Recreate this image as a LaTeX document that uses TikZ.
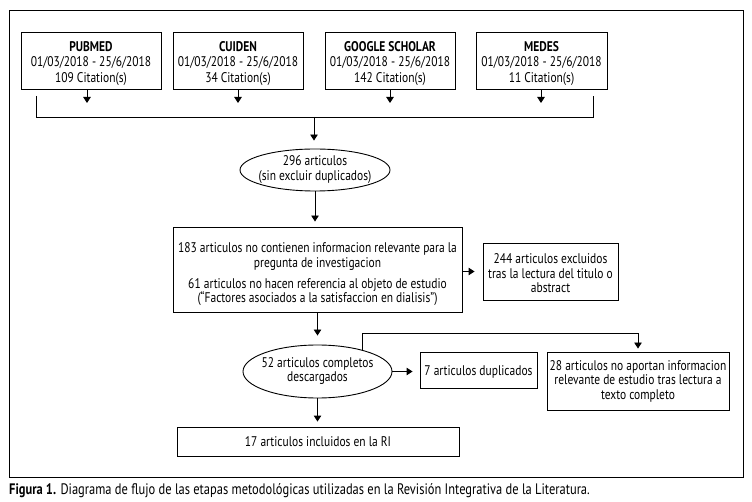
\documentclass[tikz,border=0pt]{standalone}
\usepackage{fontspec}
\setmainfont[FakeStretch=0.82]{PT Sans}
\usetikzlibrary{arrows.meta,shapes.geometric}
\begin{document}
\begin{tikzpicture}[x=1pt,y=-1pt,
  lw/.style={line width=0.9pt},
  txt/.style={font=\fontsize{14}{14.5}\selectfont},
  srctxt/.style={font=\fontsize{14}{15.5}\selectfont},
  box/.style={draw, lw, txt, align=center, inner sep=2pt},
  srcbox/.style={box, srctxt, minimum height=57pt},
  oval/.style={draw, lw, txt, ellipse, inner sep=0pt},
  arr/.style={lw, -{Triangle[width=7.5pt,length=6pt]}}]
\useasboundingbox (0,0) rectangle (752,502);
% outer frame
\node[draw, lw, minimum width=734pt, minimum height=467pt, inner sep=0] (frame) at (376,243.5) {};
% sources
\node[srcbox, minimum width=140pt] (pub) at (91,60.5) {\rule{0pt}{16pt}\textbf{PUBMED}\\01/03/2018 - 25/6/2018\\109 Citation(s)};
\node[srcbox, minimum width=130pt] (cui) at (238,60.5) {\rule{0pt}{16pt}\textbf{CUIDEN}\\01/03/2018 - 25/6/2018\\34 Citation(s)};
\node[srcbox, minimum width=130pt] (goo) at (390,60.5) {\rule{0pt}{16pt}\textbf{GOOGLE SCHOLAR}\\01/03/2018 - 25/6/2018\\142 Citation(s)};
\node[srcbox, minimum width=131pt] (med) at (541.5,60.5) {\rule{0pt}{16pt}\textbf{MEDES}\\01/03/2018 - 25/6/2018\\11 Citation(s)};
\coordinate (pa) at (87,103);
\coordinate (ca) at (238,103);
\coordinate (ga) at (390,103);
\coordinate (ma) at (541,103);
\draw[arr] (pa |- pub.south) -- (pa);
\draw[arr] (ca |- cui.south) -- (ca);
\draw[arr] (ga |- goo.south) -- (ga);
\draw[arr] (ma |- med.south) -- (ma);
% bracket
\coordinate (bl) at (36,96);
\coordinate (br) at (593,96);
\coordinate (bm) at (314,117);
\draw[lw] (bl) -- (bl |- bm) -- (br |- bm) -- (br);
% ellipse 1
\node[oval, minimum width=150pt, minimum height=42pt] (e1) at (315,170) {\makebox[0pt]{\begin{tabular}{@{}c@{}}296 articulos\\(sin excluir duplicados)\end{tabular}}};
\draw[arr, shorten >=8pt] (bm) -- (bm |- e1.north);
% box 2
\node[box, minimum width=289pt, minimum height=85pt] (b2) at (317.5,269.5) {\rule{0pt}{20pt}183 articulos no contienen informacion relevante para la\\pregunta de investigacion\\[6.5pt]61 articulos no hacen referencia al objeto de estudio\\(“Factores asociados a la satisfaccion en dialisis”)};
\draw[arr, shorten >=5pt] (e1.south) -- (e1.south |- b2.north);
% box 3
\node[box, minimum width=135pt, minimum height=57pt] (b3) at (550.5,271.5) {\rule{0pt}{14pt}244 articulos excluidos\\tras la lectura del titulo o\\abstract};
\draw[arr, shorten >=8pt] (b2.east |- b3.west) -- (b3.west);
% ellipse 2
\node[oval, minimum width=149pt, minimum height=53pt] (e2) at (317.5,371.5) {\makebox[0pt]{\begin{tabular}{@{}c@{}}52 articulos completos\\descargados\end{tabular}}};
\draw[arr, shorten >=9pt] (b2.south -| e2.north) -- (e2.north);
% box 7
\node[box, minimum width=117pt, minimum height=36pt] (b7) at (478.5,370) {\rule{0pt}{13pt}7 articulos duplicados};
\draw[arr, shorten >=7pt] (e2.east) -- (e2.east -| b7.west);
% box 28
\node[box, minimum width=182pt, minimum height=58pt] (b28) at (638,381) {28 articulos no aportan informacion\\relevante de estudio tras lectura a\\texto completo};
\coordinate (kt) at (361,333);
\draw[arr, shorten >=3pt] (e2.26) -- (e2.26 |- kt) -- (kt -| b28.north) -- (b28.north);
% final
\node[box, minimum width=282pt, minimum height=29pt] (fin) at (318,441.5) {17 articulos incluidos en la RI};
\draw[arr, shorten >=5pt] (e2.south) -- (e2.south |- fin.north);
% caption
\node[anchor=base west, inner sep=0, font=\fontsize{15.2}{16}\selectfont] (cap) at (9,494) {\textbf{Figura 1.} Diagrama de flujo de las etapas metodológicas utilizadas en la Revisión Integrativa de la Literatura.};
\end{tikzpicture}
\end{document}
